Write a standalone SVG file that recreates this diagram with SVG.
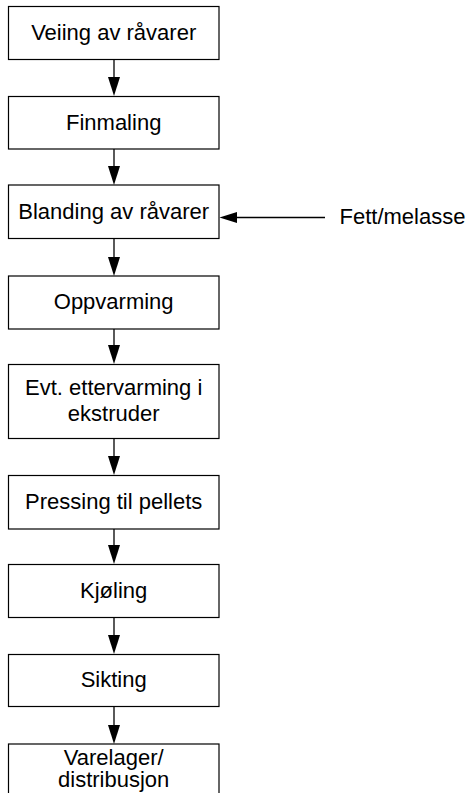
<svg xmlns="http://www.w3.org/2000/svg" width="468" height="793" viewBox="0 0 468 793">
  <style>
    .box { fill: #ffffff; stroke: #000000; stroke-width: 1.2; }
    .lbl { font-family: "Liberation Sans", Arial, sans-serif; font-size: 22px; fill: #000000; text-anchor: middle; }
    .conn { stroke: #000000; stroke-width: 1.3; fill: none; }
    .head { fill: #000000; }
  </style>
  <rect width="468" height="793" fill="#ffffff"/>

  <g id="n1"><rect class="box" x="8.5" y="6.5" width="210.5" height="53"/><text class="lbl" x="113.7" y="39.5">Veiing av råvarer</text></g>
  <g id="n2"><rect class="box" x="8.5" y="96.5" width="210.5" height="52.5"/><text class="lbl" x="113.7" y="130">Finmaling</text></g>
  <g id="n3"><rect class="box" x="8.5" y="185" width="210.5" height="53.5"/><text class="lbl" x="113.7" y="219.3">Blanding av råvarer</text></g>
  <g id="n4"><rect class="box" x="8.5" y="276" width="210.5" height="53"/><text class="lbl" x="113.7" y="309.3">Oppvarming</text></g>
  <g id="n5"><rect class="box" x="8.5" y="364.5" width="210.5" height="74"/><text class="lbl" x="113.7" y="395">Evt. ettervarming i</text><text class="lbl" x="113.7" y="420.5">ekstruder</text></g>
  <g id="n6"><rect class="box" x="8.5" y="475.5" width="210.5" height="53.5"/><text class="lbl" x="113.7" y="509.3">Pressing til pellets</text></g>
  <g id="n7"><rect class="box" x="8.5" y="564.5" width="210.5" height="53"/><text class="lbl" x="113.7" y="598.3">Kjøling</text></g>
  <g id="n8"><rect class="box" x="8.5" y="654.5" width="210.5" height="52"/><text class="lbl" x="113.7" y="686.7">Sikting</text></g>
  <g id="n9"><rect class="box" x="8.5" y="744" width="210.5" height="60"/><text class="lbl" x="113.7" y="765">Varelager/</text><text class="lbl" x="113.7" y="786.5">distribusjon</text></g>
  <g id="src"><text class="lbl" x="402.5" y="223.5">Fett/melasse</text></g>

  <g id="connectors">
    <line class="conn" x1="114" y1="59.5" x2="114" y2="80"/><polygon class="head" points="108,77 120,77 114,96"/>
    <line class="conn" x1="114" y1="149" x2="114" y2="168"/><polygon class="head" points="108,166 120,166 114,185"/>
    <line class="conn" x1="114" y1="238.5" x2="114" y2="259"/><polygon class="head" points="108,257 120,257 114,276"/>
    <line class="conn" x1="114" y1="329" x2="114" y2="348"/><polygon class="head" points="108,345 120,345 114,364"/>
    <line class="conn" x1="114" y1="438.5" x2="114" y2="459"/><polygon class="head" points="108,456 120,456 114,475"/>
    <line class="conn" x1="114" y1="529" x2="114" y2="548"/><polygon class="head" points="108,545 120,545 114,564"/>
    <line class="conn" x1="114" y1="617.5" x2="114" y2="638"/><polygon class="head" points="108,635 120,635 114,654"/>
    <line class="conn" x1="114" y1="706.5" x2="114" y2="727"/><polygon class="head" points="108,725 120,725 114,744"/>
    <line class="conn" x1="325" y1="217.5" x2="234" y2="217.5"/><polygon class="head" points="237,212 237,223 219.5,217.5"/>
  </g>
</svg>
